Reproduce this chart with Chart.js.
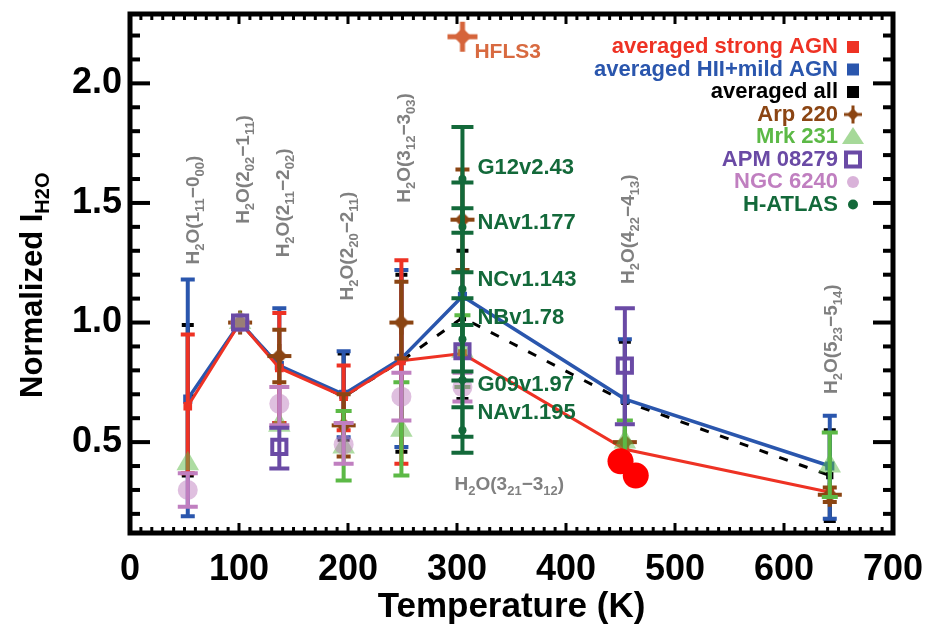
<!DOCTYPE html>
<html>
<head>
<meta charset="utf-8">
<script src="https://cdn.jsdelivr.net/npm/chart.js@4.4.1/dist/chart.umd.min.js"></script>
<style>
  html, body { margin: 0; padding: 0; background: #fff; }
</style>
</head>
<body>
<canvas id="chart" width="925" height="625"></canvas>
<script>
// upper level energies of the eight H2O lines (K)
const energies = [53, 101, 137, 196, 249, 305, 454, 642];
const lineNames = [
    "H_{2}O(1_{11}−0_{00})", "H_{2}O(2_{02}−1_{11})", "H_{2}O(2_{11}−2_{02})", "H_{2}O(2_{20}−2_{11})",
    "H_{2}O(3_{12}−3_{03})", "H_{2}O(3_{21}−3_{12})", "H_{2}O(4_{22}−4_{13})", "H_{2}O(5_{23}−5_{14})"
];

const strongAgn   = [0.65, 1.00, 0.81, 0.69, 0.84, 0.87, 0.47, 0.29];
const strongAgnLo = [0.37, null, 0.58, 0.55, 0.41, null, null, null];
const strongAgnHi = [0.95, null, 1.04, 0.82, 1.26, null, null, null];

const hiiMild   = [0.68, 1.00, 0.82, 0.70, 0.85, 1.11, 0.68, 0.40];
const hiiMildLo = [0.19, null, 0.58, 0.52, 0.48, null, 0.44, 0.18];
const hiiMildHi = [1.18, null, 1.06, 0.88, 1.22, null, 0.93, 0.61];

const allAvg   = [0.67, 1.00, 0.82, 0.69, 0.84, 1.02, 0.67, 0.36];
const allAvgLo = [0.36, null, null, 0.51, 0.46, 0.68, 0.42, 0.17];
const allAvgHi = [0.99, null, null, 0.87, 1.20, 1.30, 0.92, 0.55];

const arp220   = [null, 1.00, 0.86, 0.57, 1.00, 1.43, 0.50, 0.28];
const arp220Lo = [null, null, 0.75, 0.44, 0.85, 1.22, null, 0.25];
const arp220Hi = [null, null, 0.97, 0.70, 1.17, 1.64, null, 0.31];

const mrk231   = [0.41, 1.00, 0.57, 0.48, 0.55, 0.88, 0.50, 0.40];
const mrk231Lo = [null, null, null, 0.34, 0.36, 0.73, 0.41, 0.27];
const mrk231Hi = [null, null, null, 0.63, 0.75, 1.03, 0.59, 0.54];

const apm08279   = [null, 1.00, 0.48, null, null, 0.88, 0.82, null];
const apm08279Lo = [null, null, 0.39, null, null, null, 0.575, null];
const apm08279Hi = [null, null, 0.56, null, null, null, 1.06, null];

const ngc6240   = [0.30, 1.00, 0.66, 0.49, 0.69, 0.73, null, null];
const ngc6240Lo = [0.23, null, 0.57, 0.41, 0.59, 0.67, null, null];
const ngc6240Hi = [0.37, null, 0.73, 0.58, 0.79, 0.79, null, null];

// H-ATLAS sources, all in the 3_21-3_12 line
const hatlasNames = ["G12v2.43", "NAv1.177", "NCv1.143", "NBv1.78", "G09v1.97", "NAv1.195"];
const hatlasVal = [1.60, 1.40, 1.14, 0.93, 0.76, 0.55];
const hatlasLo  = [1.375, 1.21, 0.795, 0.758, 0.522, 0.456];
const hatlasHi  = [1.818, 1.586, 1.478, 1.101, 0.99, 0.646];

const hfls3 = [2.195];
const redSpotsX = [450, 464];
const redSpotsY = [0.42, 0.36];

const xTicks = [0, 100, 200, 300, 400, 500, 600, 700];
const yTicks = [0.5, 1.0, 1.5, 2.0];

const FONT = "'Liberation Sans', Arial, Helvetica, sans-serif";
Chart.defaults.font.family = FONT;

function pts(ys) {
    return energies.map((e, i) => ({ x: e, y: ys[i] }));
}

function makeStar(color, arm, diamond, armW) {
    const c = document.createElement("canvas");
    const s = Math.ceil(arm * 2 + 2);
    c.width = s; c.height = s;
    const g = c.getContext("2d");
    const m = s / 2;
    g.fillStyle = color;
    g.beginPath();
    g.moveTo(m, m - diamond); g.lineTo(m + diamond, m);
    g.lineTo(m, m + diamond); g.lineTo(m - diamond, m);
    g.closePath(); g.fill();
    g.fillRect(m - armW / 2, m - arm, armW, arm * 2);
    g.fillRect(m - arm, m - armW / 2, arm * 2, armW);
    return c;
}

const RED = "#ee3224", BLUE = "#2a56ad", BROWN = "#8b4513", GREEN = "#5cb946",
      PURPLE = "#6a4aa5", PINK = "#c07fc0", DKGREEN = "#13693a";

const arpStar = makeStar(BROWN, 12, 8, 4);
const arpStarSmall = makeStar(BROWN, 9, 6, 3);
const hflsStar = makeStar("#d5643b", 15, 9, 5);

const datasets = [
    { label: "averaged strong AGN", data: pts(strongAgn), errLo: strongAgnLo, errHi: strongAgnHi, cap: 7,
      showLine: true, borderColor: RED, backgroundColor: RED, borderWidth: 3,
      pointStyle: "rect", pointRadius: 4, order: 5, legendSym: "square" },
    { label: "averaged HII+mild AGN", data: pts(hiiMild), errLo: hiiMildLo, errHi: hiiMildHi, cap: 7,
      showLine: true, borderColor: BLUE, backgroundColor: BLUE, borderWidth: 3.5,
      pointStyle: "rect", pointRadius: 4, order: 6, legendSym: "square" },
    { label: "averaged all", data: pts(allAvg), errLo: allAvgLo, errHi: allAvgHi, cap: 6,
      showLine: true, borderColor: "#000", backgroundColor: "#000", borderWidth: 3, borderDash: [9, 12],
      pointStyle: "rect", pointRadius: 3, order: 7, legendSym: "square" },
    { label: "Arp 220", data: pts(arp220), errLo: arp220Lo, errHi: arp220Hi, cap: 7,
      showLine: false, borderColor: BROWN, backgroundColor: BROWN,
      pointStyle: arpStar, order: 4, legendSym: "star" },
    { label: "Mrk 231", data: pts(mrk231), errLo: mrk231Lo, errHi: mrk231Hi, cap: 8,
      showLine: false, borderColor: GREEN, backgroundColor: "rgba(92,185,70,0.5)", pointBorderWidth: 0,
      pointStyle: "triangle", pointRadius: 13, order: 3, legendSym: "triangle" },
    { label: "APM 08279", data: pts(apm08279), errLo: apm08279Lo, errHi: apm08279Hi, cap: 10,
      showLine: false, borderColor: PURPLE, backgroundColor: "rgba(0,0,0,0)", pointBorderWidth: 4,
      pointStyle: "rect", pointRadius: 10, order: 1, legendSym: "open" },
    { label: "NGC 6240", data: pts(ngc6240), errLo: ngc6240Lo, errHi: ngc6240Hi, cap: 10,
      showLine: false, borderColor: PINK, backgroundColor: "rgba(192,127,192,0.5)", pointBorderWidth: 0,
      pointStyle: "circle", pointRadius: 10, order: 2, legendSym: "circle" },
    { label: "H-ATLAS", data: hatlasVal.map(v => ({ x: energies[5], y: v })), errLo: hatlasLo, errHi: hatlasHi, cap: 11,
      showLine: false, borderColor: DKGREEN, backgroundColor: DKGREEN, pointBorderWidth: 0,
      pointStyle: "circle", pointRadius: 4, order: 0, legendSym: "dot" },
    { label: "HFLS3", data: hfls3.map(v => ({ x: energies[5], y: v })),
      showLine: false, pointStyle: hflsStar, order: 0 },
    { label: "spots", data: redSpotsX.map((x, i) => ({ x: x, y: redSpotsY[i] })),
      showLine: false, backgroundColor: "#ff0000", borderColor: "#ff0000", pointBorderWidth: 0,
      pointStyle: "circle", pointRadius: 13, order: -1 }
];

const errorBars = {
    id: "errorBars",
    beforeDatasetDraw(chart, args) {
        const ds = chart.data.datasets[args.index];
        if (!ds.errLo) return;
        const { ctx } = chart;
        const x = chart.scales.x, y = chart.scales.y;
        ctx.save();
        ctx.strokeStyle = ds.borderColor;
        ctx.lineWidth = 4;
        ctx.setLineDash([]);
        ds.data.forEach((p, i) => {
            const lo = ds.errLo[i], hi = ds.errHi[i];
            if (p.y == null || lo == null || hi == null) return;
            const px = x.getPixelForValue(p.x);
            const y1 = y.getPixelForValue(lo), y2 = y.getPixelForValue(hi);
            ctx.beginPath();
            ctx.moveTo(px, y1); ctx.lineTo(px, y2);
            ctx.moveTo(px - ds.cap, y1); ctx.lineTo(px + ds.cap, y1);
            ctx.moveTo(px - ds.cap, y2); ctx.lineTo(px + ds.cap, y2);
            ctx.stroke();
        });
        ctx.restore();
    }
};

function parseRich(s) {
    const parts = [];
    const re = /_\{([^}]*)\}/g;
    let last = 0, m;
    while ((m = re.exec(s))) {
        if (m.index > last) parts.push({ t: s.slice(last, m.index), sub: false });
        parts.push({ t: m[1], sub: true });
        last = re.lastIndex;
    }
    if (last < s.length) parts.push({ t: s.slice(last), sub: false });
    return parts;
}

function drawRich(ctx, s, x, y, o) {
    const parts = parseRich(s);
    const fontOf = p => (o.weight || "normal") + " " + (p.sub ? o.subSize : o.size) + "px " + FONT;
    let w = 0;
    parts.forEach(p => { ctx.font = fontOf(p); p.w = ctx.measureText(p.t).width; w += p.w; });
    ctx.save();
    ctx.translate(x, y);
    ctx.rotate(o.rot || 0);
    ctx.fillStyle = o.color;
    ctx.textBaseline = "alphabetic";
    ctx.textAlign = "left";
    let cx = o.align === "left" ? 0 : -w / 2;
    parts.forEach(p => {
        ctx.font = fontOf(p);
        ctx.fillText(p.t, cx, (o.base || 0) + (p.sub ? o.subShift : 0));
        cx += p.w;
    });
    ctx.restore();
}

// where the gray line names sit (data x, data y, pixel nudge)
const lineLabelSpots = [
    { x: 53, y: 1.47, dx: 4 }, { x: 101, y: 1.64, dx: 2 }, { x: 137, y: 1.50, dx: 3 },
    { x: 196, y: 1.32, dx: 2 }, { x: 249, y: 1.73, dx: 2 }, { x: 348, y: 0.33, flat: true },
    { x: 454, y: 1.39, dx: 2 }, { x: 642, y: 0.93, dx: 0 }
];
const hatlasLabelY = [1.648, 1.416, 1.18, 1.019, 0.741, 0.621];

function drawSymbol(ctx, kind, cx, cy, color) {
    ctx.save();
    ctx.fillStyle = color;
    ctx.strokeStyle = color;
    if (kind === "square") {
        ctx.fillRect(cx - 6, cy - 6, 12, 12);
    } else if (kind === "star") {
        ctx.drawImage(arpStarSmall, cx - arpStarSmall.width / 2, cy - arpStarSmall.height / 2);
    } else if (kind === "triangle") {
        ctx.fillStyle = "rgba(92,185,70,0.55)";
        ctx.beginPath();
        ctx.moveTo(cx, cy - 10); ctx.lineTo(cx + 11, cy + 7); ctx.lineTo(cx - 11, cy + 7);
        ctx.closePath(); ctx.fill();
    } else if (kind === "open") {
        ctx.lineWidth = 4;
        ctx.strokeRect(cx - 7, cy - 7, 14, 14);
    } else if (kind === "circle") {
        ctx.fillStyle = "rgba(192,127,192,0.6)";
        ctx.beginPath(); ctx.arc(cx, cy, 6, 0, Math.PI * 2); ctx.fill();
    } else if (kind === "dot") {
        ctx.beginPath(); ctx.arc(cx, cy, 5, 0, Math.PI * 2); ctx.fill();
    }
    ctx.restore();
}

const decorations = {
    id: "decorations",
    afterDatasetsDraw(chart) {
        const { ctx, chartArea: { left, right, top, bottom } } = chart;
        const x = chart.scales.x, y = chart.scales.y;
        ctx.save();
        // frame
        ctx.strokeStyle = "#000";
        ctx.lineWidth = 5;
        ctx.strokeRect(left, top, right - left, bottom - top);
        ctx.fillStyle = "#000";
        // x ticks, bottom and top
        for (let v = 0; v <= 700; v += 10) {
            const px = x.getPixelForValue(v);
            const len = v % 100 === 0 ? 8 : 4;
            ctx.fillRect(px - 1.5, bottom - 2 - len, 3, len);
            ctx.fillRect(px - 1.5, top + 2, 3, len);
        }
        // y ticks, left and right
        for (let k = 2; k <= 22; k++) {
            const py = y.getPixelForValue(k / 10);
            const len = k % 5 === 0 ? 18 : 8;
            ctx.fillRect(left + 2, py - 2, len, 4);
            ctx.fillRect(right - 2 - len, py - 2, len, 4);
        }

        // line names
        lineNames.forEach((name, i) => {
            const s = lineLabelSpots[i];
            const px = x.getPixelForValue(s.x) + (s.dx || 0);
            const py = y.getPixelForValue(s.y);
            drawRich(ctx, name, px, py, {
                size: 19, subSize: 13, subShift: 5, base: 7, weight: "bold", color: "#808080",
                rot: s.flat ? 0 : -Math.PI / 2
            });
        });

        // H-ATLAS source names
        ctx.font = "bold 22px " + FONT;
        ctx.fillStyle = DKGREEN;
        ctx.textAlign = "left";
        ctx.textBaseline = "middle";
        const lx = x.getPixelForValue(energies[5]) + 15;
        hatlasNames.forEach((n, i) => ctx.fillText(n, lx, y.getPixelForValue(hatlasLabelY[i])));

        // HFLS3 tag
        ctx.font = "bold 21px " + FONT;
        ctx.fillStyle = "#d86a40";
        ctx.fillText("HFLS3", x.getPixelForValue(energies[5]) + 12, y.getPixelForValue(hfls3[0]) + 15);
        ctx.restore();
    },
    afterDraw(chart) {
        const { ctx, chartArea: { left, right } } = chart;
        ctx.save();
        // legend
        ctx.font = "bold 22px " + FONT;
        ctx.textAlign = "right";
        ctx.textBaseline = "middle";
        let row = 0;
        chart.data.datasets.forEach(ds => {
            if (!ds.legendSym) return;
            const cy = 47 + row * 22.5;
            ctx.fillStyle = ds.borderColor;
            ctx.fillText(ds.label, 838, cy);
            drawSymbol(ctx, ds.legendSym, 853, cy, ds.borderColor);
            row++;
        });
        // axis titles
        ctx.fillStyle = "#000";
        ctx.textAlign = "center";
        ctx.textBaseline = "alphabetic";
        ctx.font = "bold 35px " + FONT;
        ctx.fillText("Temperature (K)", (left + right) / 2, 617);
        drawRich(ctx, "Normalized I_{H2O}", 42, 398, {
            size: 31, subSize: 20, subShift: 7, weight: "bold", color: "#000",
            rot: -Math.PI / 2, align: "left", base: 0
        });
        ctx.restore();
    }
};

function noEdgePadding(s) {
    s.paddingTop = 0; s.paddingBottom = 0; s.paddingLeft = 0; s.paddingRight = 0;
}

new Chart(document.getElementById("chart").getContext("2d"), {
    type: "scatter",
    data: { datasets: datasets },
    options: {
        responsive: false,
        animation: false,
        events: [],
        layout: { padding: { top: 9, right: 32, left: 0, bottom: 0 } },
        plugins: { legend: { display: false }, tooltip: { enabled: false } },
        scales: {
            x: {
                type: "linear", min: 0, max: 700,
                grid: { display: false, drawTicks: false }, border: { display: false },
                ticks: { padding: 15, color: "#000", maxRotation: 0, autoSkip: false,
                         font: { size: 36, weight: "bold" } },
                afterBuildTicks(s) { s.ticks = xTicks.map(v => ({ value: v })); },
                afterFit(s) { s.height = 92; noEdgePadding(s); }
            },
            y: {
                type: "linear", min: 0.12, max: 2.29,
                grid: { display: false, drawTicks: false }, border: { display: false },
                ticks: { padding: 8, color: "#000", font: { size: 36, weight: "bold" },
                         callback: v => v.toFixed(1) },
                afterBuildTicks(s) { s.ticks = yTicks.map(v => ({ value: v })); },
                afterFit(s) { s.width = 130; noEdgePadding(s); }
            }
        }
    },
    plugins: [errorBars, decorations]
});
</script>
</body>
</html>
